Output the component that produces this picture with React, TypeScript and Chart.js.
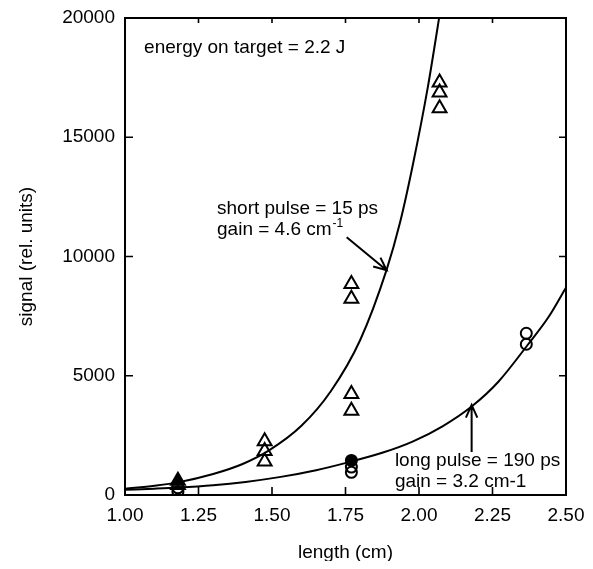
import { useEffect, useRef } from 'react';
import { Chart, registerables } from 'chart.js';

Chart.register(...registerables);

// ---- tick labels ----
const xTickLabels = ['1.00', '1.25', '1.50', '1.75', '2.00', '2.25', '2.50'];
const yTickLabels = ['0', '5000', '10000', '15000', '20000'];

// ---- fitted curves ----
const shortPulseX = [1.0, 1.1, 1.18, 1.3, 1.4, 1.49, 1.6, 1.7, 1.8, 1.89, 1.935, 1.98, 2.03, 2.08];
const shortPulseY = [265, 390, 530, 880, 1300, 1870, 2900, 4350, 6500, 9450, 11400, 13900, 17100, 20900];
const longPulseX = [1.0, 1.1, 1.18, 1.3, 1.41, 1.53, 1.65, 1.765, 1.88, 1.98, 2.08, 2.18, 2.27, 2.37, 2.44, 2.5];
const longPulseY = [220, 265, 310, 410, 550, 760, 1040, 1390, 1790, 2250, 2880, 3720, 4750, 6300, 7450, 8700];

// ---- measured points ----
const triangleX = [1.18, 1.18, 1.475, 1.475, 1.475, 1.77, 1.77, 1.77, 1.77, 2.07, 2.07, 2.07];
const triangleY = [600, 420, 2250, 1850, 1400, 8850, 8230, 4240, 3530, 17300, 16880, 16220];
const circleX = [1.18, 1.18, 1.77, 1.77, 1.77, 2.365, 2.365];
const circleY = [300, 150, 1450, 1170, 950, 6780, 6320];

// ---- annotations (data coordinates) ----
const annotationText = [
  'energy on target = 2.2 J',
  'short pulse = 15 ps',
  'gain = 4.6 cm',
  'long pulse = 190 ps',
  'gain = 3.2 cm-1',
];
const annotationX = [1.065, 1.313, 1.313, 1.918, 1.918];
const annotationY = [18750, 12017, 11100, 1455, 553];
const annotationSup = ['', '', '-1', '', ''];

const arrowFromX = [1.754, 2.179];
const arrowFromY = [10810, 1800];
const arrowToX = [1.89, 2.179];
const arrowToY = [9425, 3780];

const FONT = '"Liberation Sans", Arial, Helvetica, sans-serif';
const FS = 19;

const decorPlugin = {
  id: 'decor',
  afterDraw(chart: any) {
    const { ctx, chartArea: a, scales } = chart;
    const x = scales.x;
    const y = scales.y;
    ctx.save();
    ctx.strokeStyle = '#000';
    ctx.fillStyle = '#000';
    ctx.lineWidth = 2;
    ctx.strokeRect(a.left, a.top, a.right - a.left, a.bottom - a.top);

    ctx.lineWidth = 1.6;
    ctx.beginPath();
    x.ticks.forEach((t: any) => {
      const px = x.getPixelForValue(t.value);
      const major = t.label != null && t.label !== '';
      ctx.moveTo(px, a.bottom);
      ctx.lineTo(px, a.bottom - (major ? 8 : 5));
      ctx.moveTo(px, a.top);
      ctx.lineTo(px, a.top + 5);
    });
    y.ticks.forEach((t: any) => {
      const py = y.getPixelForValue(t.value);
      const major = t.label != null && t.label !== '';
      ctx.moveTo(a.left, py);
      ctx.lineTo(a.left + (major ? 8 : 4), py);
      ctx.moveTo(a.right, py);
      ctx.lineTo(a.right - 7, py);
    });
    ctx.stroke();

    // text annotations
    ctx.textAlign = 'left';
    ctx.textBaseline = 'middle';
    annotationText.forEach((txt, i) => {
      const px = x.getPixelForValue(annotationX[i]);
      const py = y.getPixelForValue(annotationY[i]);
      ctx.font = `${FS}px ${FONT}`;
      ctx.fillText(txt, px, py);
      if (annotationSup[i]) {
        const w = ctx.measureText(txt).width;
        ctx.font = `12px ${FONT}`;
        ctx.fillText(annotationSup[i], px + w + 1, py - 7);
      }
    });

    // arrows
    ctx.lineWidth = 2;
    arrowFromX.forEach((_, i) => {
      const x0 = x.getPixelForValue(arrowFromX[i]);
      const y0 = y.getPixelForValue(arrowFromY[i]);
      const x1 = x.getPixelForValue(arrowToX[i]);
      const y1 = y.getPixelForValue(arrowToY[i]);
      const ang = Math.atan2(y1 - y0, x1 - x0);
      const hl = 14;
      const spread = 0.42;
      ctx.beginPath();
      ctx.moveTo(x0, y0);
      ctx.lineTo(x1, y1);
      ctx.moveTo(x1 - hl * Math.cos(ang - spread), y1 - hl * Math.sin(ang - spread));
      ctx.lineTo(x1, y1);
      ctx.lineTo(x1 - hl * Math.cos(ang + spread), y1 - hl * Math.sin(ang + spread));
      ctx.stroke();
    });
    ctx.restore();
  },
};

export default function App() {
  const ref = useRef<HTMLCanvasElement>(null);
  useEffect(() => {
    const clear = 'rgba(0,0,0,0)';
    const chart = new Chart(ref.current as HTMLCanvasElement, {
      type: 'scatter',
      data: {
        datasets: [
          {
            label: 'short pulse fit',
            data: shortPulseX.map((v, i) => ({ x: v, y: shortPulseY[i] })),
            showLine: true,
            borderColor: '#000',
            borderWidth: 2,
            pointRadius: 0,
            cubicInterpolationMode: 'monotone',
          },
          {
            label: 'long pulse fit',
            data: longPulseX.map((v, i) => ({ x: v, y: longPulseY[i] })),
            showLine: true,
            borderColor: '#000',
            borderWidth: 2,
            pointRadius: 0,
            cubicInterpolationMode: 'monotone',
          },
          {
            label: 'short pulse',
            data: triangleX.map((v, i) => ({ x: v, y: triangleY[i] })),
            pointStyle: 'triangle',
            pointRadius: 8,
            pointBorderWidth: 2,
            pointBorderColor: '#000',
            pointBackgroundColor: triangleX.map((_, i) => (i === 0 ? '#000' : clear)),
          },
          {
            label: 'long pulse',
            data: circleX.map((v, i) => ({ x: v, y: circleY[i] })),
            pointStyle: 'circle',
            pointRadius: 5.5,
            pointBorderWidth: 2,
            pointBorderColor: '#000',
            pointBackgroundColor: circleX.map((_, i) => (i === 2 ? '#000' : clear)),
          },
        ],
      } as any,
      options: {
        animation: false,
        responsive: false,
        layout: { padding: { left: 0, top: 6, right: 19, bottom: 0 } },
        plugins: { legend: { display: false }, tooltip: { enabled: false } },
        scales: {
          x: {
            type: 'linear',
            min: 1,
            max: 2.5,
            afterFit: (s: any) => {
              s.height = 66;
              s.paddingLeft = 0;
              s.paddingRight = 0;
            },
            grid: { display: false, drawTicks: false },
            border: { display: false },
            ticks: {
              stepSize: 0.125,
              autoSkip: false,
              maxRotation: 0,
              padding: 11,
              color: '#000',
              font: { family: FONT, size: FS, lineHeight: 1 },
              callback: (v: any) => {
                const lbl = Number(v).toFixed(2);
                return xTickLabels.includes(lbl) ? lbl : null;
              },
            },
            title: {
              display: true,
              text: 'length (cm)',
              color: '#000',
              font: { family: FONT, size: FS, lineHeight: 1 },
              padding: { top: 0, bottom: -1 },
            },
          },
          y: {
            type: 'linear',
            min: 0,
            max: 20000,
            afterFit: (s: any) => {
              s.width = 117;
              s.paddingTop = 0;
              s.paddingBottom = 0;
            },
            grid: { display: false, drawTicks: false },
            border: { display: false },
            ticks: {
              stepSize: 2500,
              autoSkip: false,
              padding: 10,
              color: '#000',
              font: { family: FONT, size: FS, lineHeight: 1 },
              callback: (v: any) => {
                const lbl = String(Math.round(Number(v)));
                return yTickLabels.includes(lbl) ? lbl : null;
              },
            },
            title: {
              display: true,
              text: 'signal (rel. units)',
              color: '#000',
              font: { family: FONT, size: FS, lineHeight: 1 },
              padding: { top: 9.5, bottom: 0 },
            },
          },
        },
      } as any,
      plugins: [decorPlugin],
    });
    return () => chart.destroy();
  }, []);
  return (
    <div style={{ width: 577, height: 553 }}>
      <canvas ref={ref} width={577} height={553} style={{ display: 'block' }} />
    </div>
  );
}
